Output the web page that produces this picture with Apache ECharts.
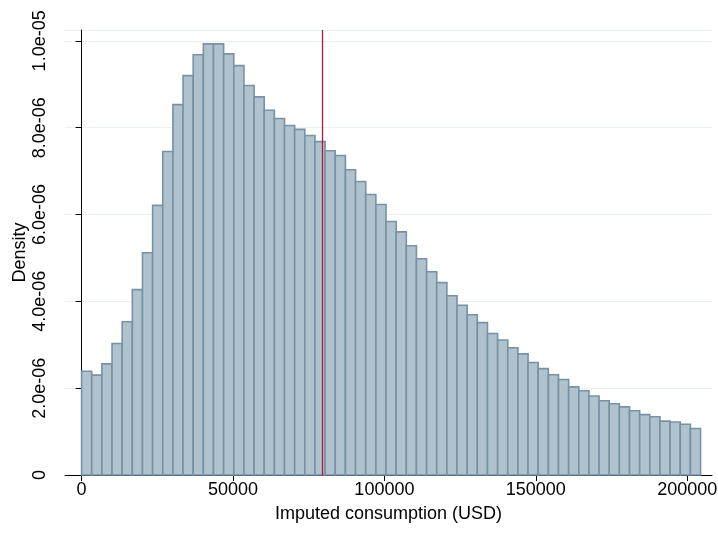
<!DOCTYPE html>
<html>
<head>
<meta charset="utf-8">
<script src="https://cdn.jsdelivr.net/npm/echarts@6/dist/echarts.min.js"></script>
<style>
html,body{margin:0;padding:0;background:#fff;}
#chart{width:718px;height:545px;}
</style>
</head>
<body>
<div id="chart"></div>
<script>
// Histogram bins (USD): first bin starts at 0, constant bin width
const binStart = 0;
const binWidth = 3351;
// Density of each bin
const density = [
  2.39e-6, 2.30e-6, 2.56e-6, 3.03e-6, 3.53e-6, 4.27e-6, 5.12e-6, 6.21e-6, 7.45e-6, 8.53e-6,
  9.20e-6, 9.68e-6, 9.93e-6, 9.93e-6, 9.70e-6, 9.43e-6, 8.97e-6, 8.71e-6, 8.40e-6, 8.21e-6,
  8.05e-6, 7.96e-6, 7.82e-6, 7.68e-6, 7.47e-6, 7.36e-6, 7.03e-6, 6.76e-6, 6.46e-6, 6.23e-6,
  5.84e-6, 5.60e-6, 5.28e-6, 4.98e-6, 4.68e-6, 4.43e-6, 4.13e-6, 3.91e-6, 3.69e-6, 3.51e-6,
  3.26e-6, 3.11e-6, 2.93e-6, 2.79e-6, 2.59e-6, 2.45e-6, 2.31e-6, 2.20e-6, 2.03e-6, 1.94e-6,
  1.82e-6, 1.71e-6, 1.64e-6, 1.57e-6, 1.48e-6, 1.39e-6, 1.34e-6, 1.24e-6, 1.22e-6, 1.17e-6,
  1.07e-6
];
// Vertical reference line (USD)
const refLine = 79400;
// Tick labels
const xTicks = [0, 50000, 100000, 150000, 200000];
const yTickLabels = ['0', '2.0e-06', '4.0e-06', '6.0e-06', '8.0e-06', '1.0e-05'];

const histData = density.map((d, i) => [binStart + i * binWidth, binStart + (i + 1) * binWidth, d]);

const FONT = '"Liberation Sans", Arial, sans-serif';
const chart = echarts.init(document.getElementById('chart'));
chart.setOption({
  animation: false,
  backgroundColor: '#ffffff',
  grid: { left: 65, right: 6, top: 30, bottom: 70, containLabel: false, outerBoundsMode: 'none' },
  xAxis: {
    type: 'value',
    min: -5480,
    max: 208190,
    interval: 50000,
    name: 'Imputed consumption (USD)',
    nameLocation: 'middle',
    nameGap: 30,
    nameMoveOverlap: false,
    nameTextStyle: { fontFamily: FONT, fontSize: 18, color: '#000' },
    axisLine: { show: true, onZero: false, lineStyle: { color: '#000', width: 1 } },
    axisTick: { show: true, length: 6, lineStyle: { color: '#000' }, customValues: xTicks },
    axisLabel: { fontFamily: FONT, fontSize: 18, color: '#000', margin: 6, customValues: xTicks,
                 formatter: v => String(v) },
    splitLine: { show: false }
  },
  yAxis: {
    type: 'value',
    min: 0,
    max: 1.025e-5,
    interval: 2e-6,
    name: 'Density',
    nameLocation: 'middle',
    nameGap: 36,
    nameRotate: 90,
    nameMoveOverlap: false,
    nameTextStyle: { fontFamily: FONT, fontSize: 18, color: '#000' },
    axisLine: { show: true, lineStyle: { color: '#000', width: 1 } },
    axisTick: { show: true, length: 6, lineStyle: { color: '#000' } },
    axisLabel: {
      fontFamily: FONT, fontSize: 18, color: '#000', rotate: 90, margin: 16,
      showMaxLabel: false,
      formatter: v => { const k = Math.round(v / 2e-6); return yTickLabels[k] !== undefined ? yTickLabels[k] : ''; }
    },
    splitLine: { show: true, lineStyle: { color: '#eaf1f1', width: 1.2 } }
  },
  series: [
    {
      type: 'custom',
      data: histData,
      renderItem: function (params, api) {
        const p0 = api.coord([api.value(0), api.value(2)]);
        const p1 = api.coord([api.value(1), 0]);
        return {
          type: 'rect',
          shape: { x: p0[0], y: p0[1], width: p1[0] - p0[0], height: p1[1] - p0[1] },
          style: { fill: '#b0c2cd', stroke: '#7892a5', lineWidth: 1.6 }
        };
      },
      encode: { x: [0, 1], y: 2 },
      z: 2
    },
    {
      type: 'line',
      data: [],
      markLine: {
        silent: true,
        symbol: ['none', 'none'],
        label: { show: false },
        lineStyle: { color: '#b8163f', width: 1.3, type: 'solid' },
        data: [{ xAxis: refLine }]
      },
      z: 5
    }
  ]
});
</script>
</body>
</html>
